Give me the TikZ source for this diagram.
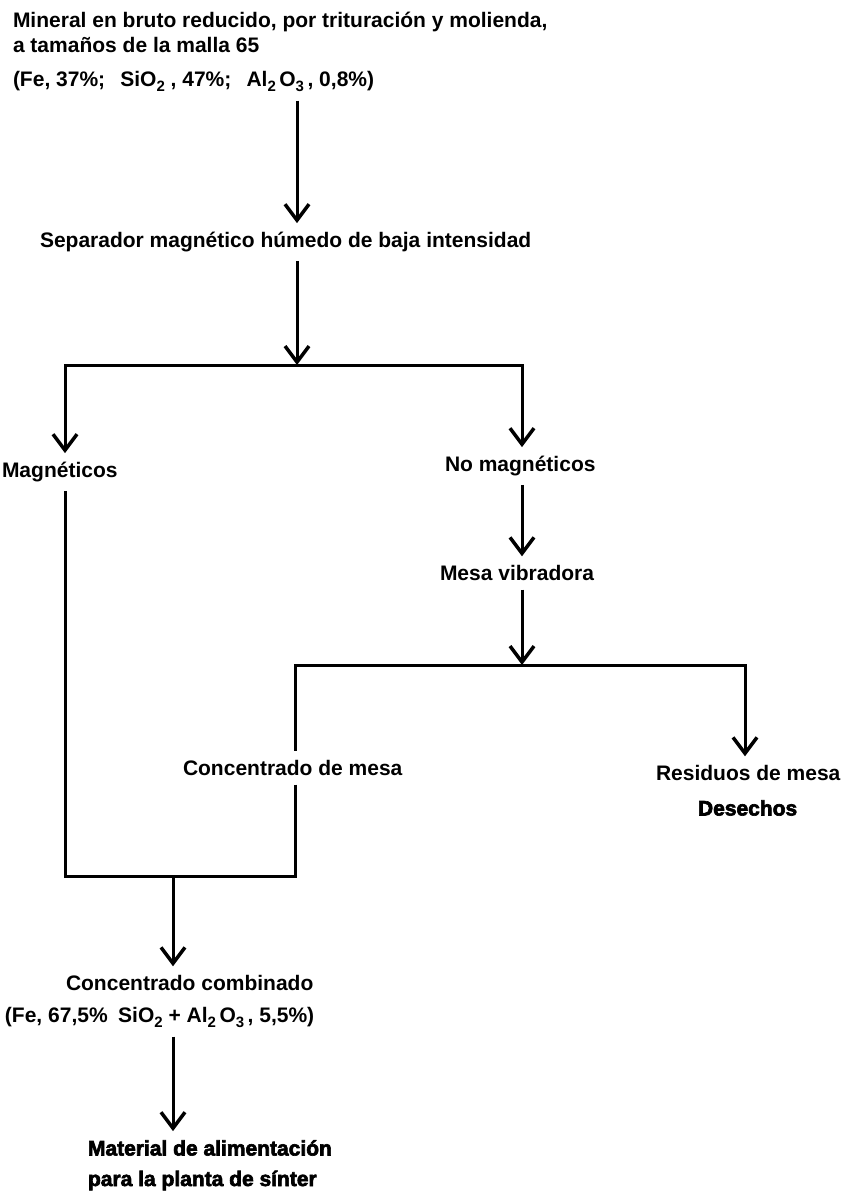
\documentclass[tikz,border=0pt]{standalone}
\usepackage{fontspec}
\setmainfont{Liberation Sans}
\newfontfamily\heavyfont{Liberation Sans Bold}[FakeBold=3]
\usetikzlibrary{arrows.meta}
\newcommand\subsc[1]{\raisebox{-5pt}{\fontsize{15}{15}\selectfont #1}}
\tikzset{
  lbl/.style={anchor=base west, inner sep=0pt, outer sep=0pt, font=\fontsize{21}{25}\selectfont\bfseries},
  heavy/.style={lbl, font=\heavyfont\fontsize{21}{25}\selectfont},
  conn/.style={line width=3pt},
  arr/.style={conn, -{Straight Barb[length=16pt,width=24pt,line width=3.5pt]}},
  gapstart/.style={shorten <=9pt},
  gapend/.style={shorten >=9pt},
  gaps/.style={gapstart, gapend}
}
\begin{document}
\begin{tikzpicture}[x=1pt,y=-1pt]
\useasboundingbox (0,0) rectangle (847,1191);
\fill[white] (0,0) rectangle (847,1191);
\coordinate (j1) at (297,365);
\coordinate (jl) at (65,365);
\coordinate (jr) at (522,365);
\coordinate (j2) at (522,665);
\coordinate (j2l) at (295,665);
\coordinate (j2r) at (745,665);
\coordinate (j3) at (173,876);
\coordinate (j3l) at (65,876);
\coordinate (j3r) at (295,876);

\node[lbl] (t1) at (13,27.5) {Mineral en bruto reducido, por trituración y molienda,};
\node[lbl] (t2) at (13,52.5) {a tamaños de la malla 65};
\node[lbl] (t3) at (13,86.5) {(Fe, 37\%;\;\, SiO\subsc{2}\;, 47\%;\;\, Al\subsc{2}\,O\subsc{3}\,, 0,8\%)};
\node[lbl] (sep) at (40,247.5) {Separador magnético húmedo de baja intensidad};
\node[lbl] (mag) at (2,477.5) {Magnéticos};
\node[lbl] (nomag) at (445,471.5) {No magnéticos};
\node[lbl] (mesa) at (440,580.5) {Mesa vibradora};
\node[lbl] (cmesa) at (183,775.5) {Concentrado de mesa};
\node[lbl] (resid) at (656,780.5) {Residuos de mesa};
\node[heavy] (des) at (698,815.5) {Desechos};
\node[lbl] (cc1) at (66,990.5) {Concentrado combinado};
\node[lbl] (cc2) at (5,1022.5) {(Fe, 67,5\%\enspace SiO\subsc{2} + Al\subsc{2}\,O\subsc{3}\,, 5,5\%)};
\node[heavy] (m1) at (88,1155.5) {Material de alimentación};
\node[heavy] (m2) at (88,1186) {para la planta de sínter};

\draw[arr,gaps] (t3.south -| j1) -- (sep.north -| j1);
\draw[arr,gapstart] (sep.south -| j1) -- (j1);
\draw[arr,gapend] (j1) -| (mag.north -| jl);
\draw[arr,gapend] (j1) -| (nomag.north -| jr);
\draw[arr,gaps] (nomag.south -| jr) -- (mesa.north -| jr);
\draw[arr,gapstart] (mesa.south -| j2) -- (j2);
\draw[conn,gapend] (j2) -| (cmesa.north -| j2l);
\draw[arr,gapend] (j2) -| (resid.north -| j2r);
\draw[conn,gapstart] (mag.south -| j3l) |- (j3);
\draw[conn,gapstart] (cmesa.south -| j3r) |- (j3);
\draw[arr,gapend] (j3) -- (cc1.north -| j3);
\draw[arr,gaps] (cc2.south -| j3) -- (m1.north -| j3);
\end{tikzpicture}
\end{document}
